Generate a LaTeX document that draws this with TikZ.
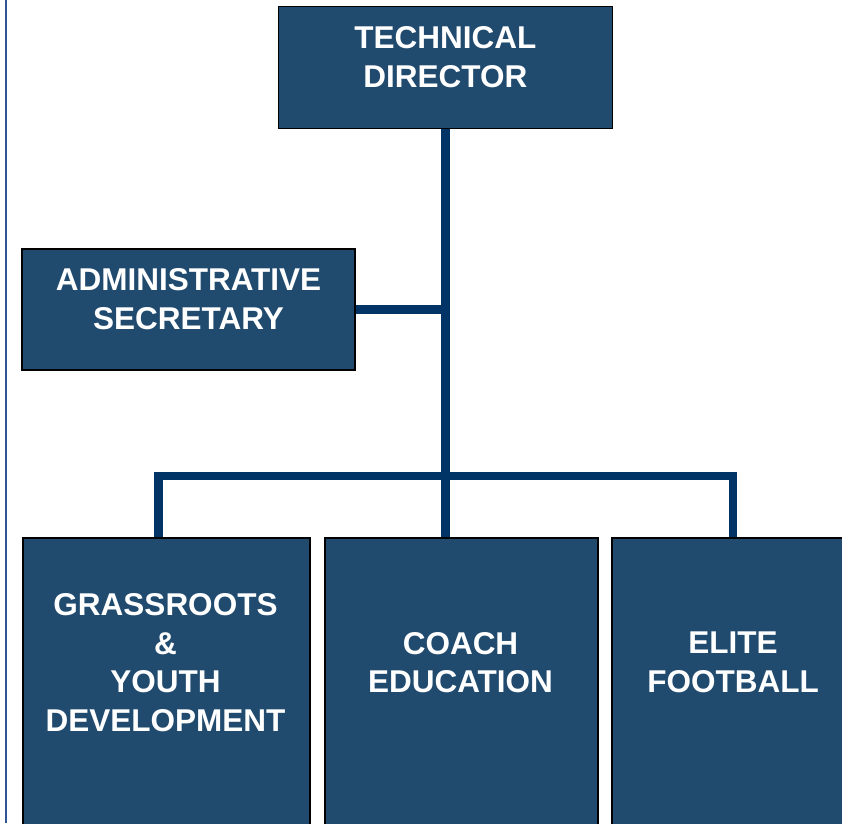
\documentclass[tikz,border=0pt]{standalone}
\usepackage{fontspec}
\setmainfont{Liberation Sans}
\definecolor{boxfill}{RGB}{33,75,110}
\definecolor{conn}{RGB}{0,51,102}
\definecolor{edgeblue}{RGB}{47,85,151}
\pgfdeclarelayer{background}
\pgfsetlayers{background,main}
\begin{document}
\begin{tikzpicture}[x=1pt,y=-1pt,
  orgbox/.style={draw=black,line width=1.5pt,fill=boxfill,rectangle,inner sep=0pt},
  orgtext/.style={text=white,align=center,inner sep=0pt,yshift=10.5pt,
    font=\fontsize{31.5}{38.5}\selectfont\bfseries},
  link/.style={draw=conn,line width=8.5pt,line join=miter}]
\useasboundingbox (0,0) rectangle (842,823);
\clip (0,0) rectangle (842,823);
% left rule
\draw[edgeblue,line width=2pt] (6,0) -- (6,823);
% boxes
\node[orgbox,minimum width=334,minimum height=121.6] (td) at (445.3,67.5) {};
\node[orgbox,minimum width=333,minimum height=121] (admin) at (188.5,309.5) {};
\node[orgbox,minimum width=287,minimum height=320,anchor=north west] (grass) at (22,537) {};
\node[orgbox,minimum width=273,minimum height=320,anchor=north west] (coach) at (324,537) {};
\node[orgbox,minimum width=245,minimum height=320,anchor=north west] (elite) at (611,537) {};
% texts
\node[orgtext] (tdt) at (td.center) {TECHNICAL\\DIRECTOR};
\node[orgtext] (adt) at (admin.center) {ADMINISTRATIVE\\SECRETARY};
\node[orgtext] (grt) at (165.5,673) {GRASSROOTS\\\&\\YOUTH\\DEVELOPMENT};
\node[orgtext] (cot) at (460.5,673) {COACH\\EDUCATION};
\node[orgtext] (elt) at (733,673) {ELITE\\FOOTBALL};
% connectors behind the boxes
\coordinate (bl) at (158.5,476);
\coordinate (br) at (733,476);
\begin{pgfonlayer}{background}
\path[link] (td.south) -- (coach.north -| td.south);
\path[link] (admin.east) -- (admin.east -| td.south);
\path[link] (grass.north -| bl) -- (bl) -- (br) -- (elite.north -| br);
\end{pgfonlayer}
\end{tikzpicture}
\end{document}
